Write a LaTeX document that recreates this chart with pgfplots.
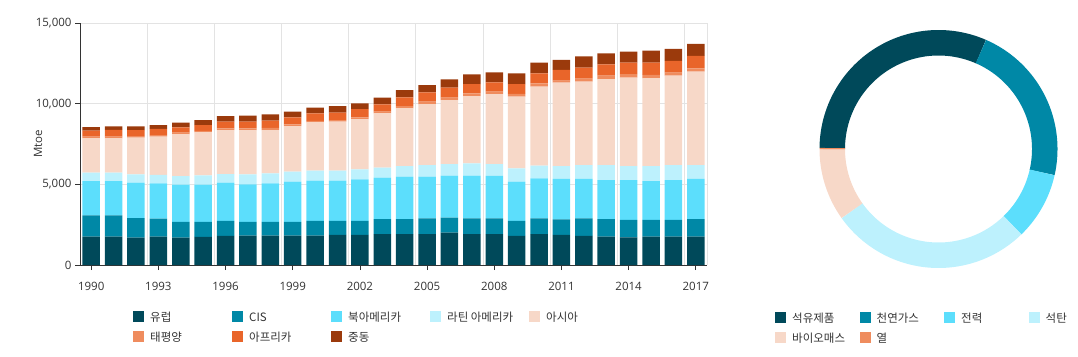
\documentclass[border=0pt]{standalone}
\usepackage{fontspec}
\setmainfont{Open Sans}
\newfontfamily\kr{Noto Sans CJK KR}
\usepackage{pgfplots}
\usepackage{pgfplotstable}
\pgfplotsset{compat=1.18}
\definecolor{cEU}{HTML}{00495A}
\definecolor{cCIS}{HTML}{0088A6}
\definecolor{cNA}{HTML}{5CDEFC}
\definecolor{cLA}{HTML}{BDF1FD}
\definecolor{cAS}{HTML}{F7D8C8}
\definecolor{cPA}{HTML}{EF8C5E}
\definecolor{cAF}{HTML}{E9652A}
\definecolor{cME}{HTML}{9B3A0C}
\definecolor{txt}{HTML}{333333}
\definecolor{gridc}{HTML}{E3E3E3}
\pgfplotsset{sqc/.style={legend image code/.code={\path[fill=#1, draw=none, line width=0pt] (0pt,-4.5pt) rectangle (11pt,6.5pt);}}}

\pgfplotstableread{
year EU CIS NA LA AS PA AF ME
1990 1754 1326 2126 515 2132 99 372 229
1991 1754 1326 2126 515 2132 100 415 230
1992 1692 1221 2188 521 2268 100 377 229
1993 1754 1118 2191 517 2372 98 380 247
1994 1692 975 2310 539 2584 100 334 286
1995 1736 931 2310 582 2666 85 367 310
1996 1798 931 2372 539 2727 103 412 353
1997 1818 849 2334 621 2745 103 412 374
1998 1818 849 2396 621 2683 133 444 395
1999 1818 849 2498 620 2830 105 433 351
2000 1818 911 2498 620 2995 98 461 352
2001 1860 869 2498 620 3035 103 457 413
2002 1860 869 2581 620 3119 101 519 351
2003 1921 930 2562 620 3368 99 458 413
2004 1921 930 2624 661 3575 139 542 454
2005 1921 972 2582 723 3760 162 582 454
2006 2004 930 2603 723 3967 143 621 520
2007 1921 972 2644 764 4174 165 578 603
2008 1921 972 2624 743 4339 146 576 624
2009 1798 931 2436 827 4441 167 618 665
2010 1921 972 2479 785 4896 207 623 661
2011 1860 971 2500 805 5165 129 657 623
2012 1798 1096 2437 867 5163 189 680 705
2013 1754 1097 2417 930 5313 227 703 681
2014 1715 1076 2477 868 5478 214 716 682
2015 1754 1037 2415 930 5437 206 765 744
2016 1754 1037 2477 930 5540 187 723 744
2017 1754 1097 2480 867 5785 210 765 744
}\bars

\pgfplotstableread{
share
31.4
22.0
9.2
27.4
9.8
0.2
}\donut

\begin{document}%
\begin{tikzpicture}
\pgfplotstablegetelem{0}{share}\of\donut \let\sA\pgfplotsretval
\pgfplotstablegetelem{1}{share}\of\donut \let\sB\pgfplotsretval
\pgfplotstablegetelem{2}{share}\of\donut \let\sC\pgfplotsretval
\pgfplotstablegetelem{3}{share}\of\donut \let\sD\pgfplotsretval
\pgfplotstablegetelem{4}{share}\of\donut \let\sE\pgfplotsretval
\pgfplotstablegetelem{5}{share}\of\donut \let\sF\pgfplotsretval
\pgfmathsetmacro\bA{90-270.5}
\pgfmathsetmacro\bB{\bA-3.6*\sA}
\pgfmathsetmacro\bC{\bB-3.6*\sB}
\pgfmathsetmacro\bD{\bC-3.6*\sC}
\pgfmathsetmacro\bE{\bD-3.6*\sD}
\pgfmathsetmacro\bF{\bE-3.6*\sE}
\pgfmathsetmacro\bG{\bF-3.6*\sF}
\path (0,0) rectangle (1078pt,356pt);
\begin{axis}[
  at={(80pt,91pt)}, anchor=south west,
  scale only axis, width=627pt, height=242pt,
  ybar stacked, bar width=17.5pt,
  xmin=1989.5, xmax=2017.5, ymin=0, ymax=15000,
  xtick={1990,1993,...,2017},
  minor xtick={1992.5,1995.5,...,2016.5,2017.5},
  ytick={0,5000,10000,15000},
  xminorgrids, ymajorgrids,
  grid style={draw=gridc, line width=0.8pt},
  minor grid style={draw=gridc, line width=0.8pt},
  minor tick length=0pt, major tick length=5pt, tick align=outside,
  axis x line*=bottom, axis y line*=left,
  axis line style={draw=txt, line width=0.8pt, -},
  tick style={draw=txt, line width=0.8pt},
  scaled y ticks=false,
  /pgf/number format/assume math mode=true,
  x tick label style={/pgf/number format/1000 sep={}, yshift=-9pt},
  y tick label style={/pgf/number format/1000 sep={,}},
  tick label style={font=\fontsize{11.5}{13}\selectfont, text=txt},
  ylabel={Mtoe},
  ylabel style={at={(axis description cs:-0.067,0.5)}, anchor=center, font=\fontsize{11.5}{13}\selectfont, text=txt},
  legend columns=5,
  legend cell align=left,
  legend style={at={(0.0845,-0.186)}, anchor=north west, draw=none, fill=none,
    font=\kr\fontsize{11.5}{13}\selectfont, text=txt, column sep=4pt, row sep=5pt, inner sep=0pt},
]
\addplot[fill=cEU, draw=none, sqc=cEU] table[x=year, y=EU]{\bars};
\addlegendentry{\makebox[76pt][l]{유럽}}
\addplot[fill=cCIS, draw=none, sqc=cCIS] table[x=year, y=CIS]{\bars};
\addlegendentry{\makebox[76pt][l]{CIS}}
\addplot[fill=cNA, draw=none, sqc=cNA] table[x=year, y=NA]{\bars};
\addlegendentry{\makebox[76pt][l]{북아메리카}}
\addplot[fill=cLA, draw=none, sqc=cLA] table[x=year, y=LA]{\bars};
\addlegendentry{\makebox[76pt][l]{라틴 아메리카}}
\addplot[fill=cAS, draw=none, sqc=cAS] table[x=year, y=AS]{\bars};
\addlegendentry{아시아}
\addplot[fill=cPA, draw=none, sqc=cPA] table[x=year, y=PA]{\bars};
\addlegendentry{\makebox[76pt][l]{태평양}}
\addplot[fill=cAF, draw=none, sqc=cAF] table[x=year, y=AF]{\bars};
\addlegendentry{\makebox[76pt][l]{아프리카}}
\addplot[fill=cME, draw=none, sqc=cME] table[x=year, y=ME]{\bars};
\addlegendentry{\makebox[76pt][l]{중동}}
\end{axis}

\begin{axis}[
  at={(938.5pt,207pt)}, anchor=center,
  x=1pt, y=1pt, xmin=-119, xmax=119, ymin=-119, ymax=119,
  hide axis, clip=false, no markers,
  legend columns=4,
  legend cell align=left,
  legend style={at={(-0.187,-0.181)}, anchor=north west, draw=none, fill=none,
    font=\kr\fontsize{11.5}{13}\selectfont, text=txt, column sep=4pt, row sep=5pt, inner sep=0pt},
]
\addplot[draw=cEU, line width=25.5pt, domain=\bB:\bA, samples=90, sqc=cEU] ({106.25*cos(x)},{106.25*sin(x)});
\addlegendentry{\makebox[61.5pt][l]{석유제품}}
\addplot[draw=cCIS, line width=25.5pt, domain=\bC:\bB, samples=70, sqc=cCIS] ({106.25*cos(x)},{106.25*sin(x)});
\addlegendentry{\makebox[61.5pt][l]{천연가스}}
\addplot[draw=cNA, line width=25.5pt, domain=\bD:\bC, samples=40, sqc=cNA] ({106.25*cos(x)},{106.25*sin(x)});
\addlegendentry{\makebox[61.5pt][l]{전력}}
\addplot[draw=cLA, line width=25.5pt, domain=\bE:\bD, samples=80, sqc=cLA] ({106.25*cos(x)},{106.25*sin(x)});
\addlegendentry{석탄}
\addplot[draw=cAS, line width=25.5pt, domain=\bF:\bE, samples=40, sqc=cAS] ({106.25*cos(x)},{106.25*sin(x)});
\addlegendentry{\makebox[61.5pt][l]{바이오매스}}
\addplot[draw=cPA, line width=25.5pt, domain=\bG:\bF, samples=3, sqc=cPA] ({106.25*cos(x)},{106.25*sin(x)});
\addlegendentry{\makebox[61.5pt][l]{열}}
\end{axis}
\end{tikzpicture}%
\end{document}
